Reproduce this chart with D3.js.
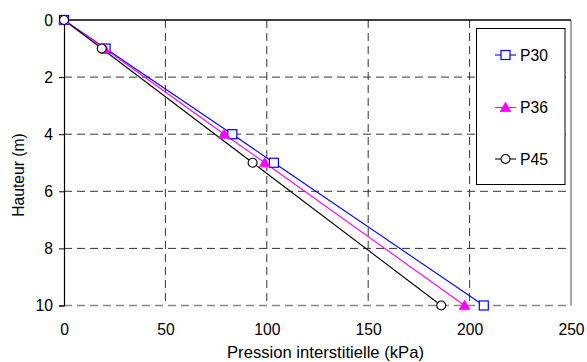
<!DOCTYPE html>
<html><head><meta charset="utf-8">
<script src="https://cdn.jsdelivr.net/npm/d3@7"></script>
<style>body{margin:0;background:#fff}svg{display:block;font-family:"Liberation Sans",Arial,sans-serif}</style>
</head><body><svg id="c" width="587" height="362"></svg>
<script>
const xTicks = [0, 50, 100, 150, 200, 250];
const yTicks = [0, 2, 4, 6, 8, 10];
const p30 = [[0,0],[20.5,1],[83,4],[103.5,5],[207,10]];
const p36 = [[0,0],[20,1],[79,4],[99,5],[197.5,10]];
const p45 = [[0,0],[18.6,1],[93,5],[186,10]];
const seriesNames = ["P30","P36","P45"];

const FS = 15.7;
const svg = d3.select("#c");
const x = d3.scaleLinear().domain([0,250]).range([64,571]);
const y = d3.scaleLinear().domain([0,10]).range([20,305.5]);

// grid
const g = svg.append("g");
g.selectAll(".vg").data(xTicks.filter(d=>d>0&&d<250)).join("line")
  .attr("x1",d=>x(d)).attr("x2",d=>x(d)).attr("y1",y(0)).attr("y2",y(10))
  .attr("stroke","#333").attr("stroke-width",1).attr("stroke-dasharray","8,5");
g.selectAll(".hg").data(yTicks.filter(d=>d>0&&d<10)).join("line")
  .attr("x1",x(0)).attr("x2",x(250)).attr("y1",d=>y(d)).attr("y2",d=>y(d))
  .attr("stroke","#333").attr("stroke-width",1).attr("stroke-dasharray","8,5");
// frame
svg.append("line").attr("x1",x(0)).attr("x2",x(250)).attr("y1",y(10)).attr("y2",y(10))
  .attr("stroke","#888").attr("stroke-width",1.5).attr("stroke-dasharray","8,5");
svg.append("line").attr("x1",x(250)).attr("x2",x(250)).attr("y1",y(0)).attr("y2",y(10))
  .attr("stroke","#888").attr("stroke-width",1.5);
svg.append("line").attr("x1",x(0)).attr("x2",x(250)).attr("y1",y(0)).attr("y2",y(0))
  .attr("stroke","#000").attr("stroke-width",1.5);

// axes
const yAxis = svg.append("g").attr("transform",`translate(${x(0)},0)`)
  .call(d3.axisLeft(y).tickValues(yTicks).tickSize(5).tickPadding(6).tickFormat(d3.format("d")));
yAxis.select(".domain").attr("stroke","#000").attr("stroke-width",1.2);
yAxis.selectAll("text").attr("font-size",FS).attr("fill","#000").attr("font-family","Liberation Sans, Arial, sans-serif");
yAxis.selectAll(".tick line").attr("stroke","#000");

const xAxis = svg.append("g").attr("transform",`translate(0,${y(10)})`)
  .call(d3.axisBottom(x).tickValues(xTicks).tickSize(0).tickPadding(18).tickFormat(d3.format("d")));
xAxis.select(".domain").remove();
xAxis.selectAll("text").attr("font-size",FS).attr("fill","#000").attr("font-family","Liberation Sans, Arial, sans-serif");

const xTitle = svg.append("text").attr("x",325.5).attr("y",358).attr("text-anchor","middle")
  .attr("font-size",FS).text("Pression interstitielle (kPa)");
svg.append("text").attr("transform","translate(23.5,175) rotate(-90)").attr("text-anchor","middle")
  .attr("font-size",FS).text("Hauteur (m)");

// series
const line = d3.line().x(d=>x(d[0])).y(d=>y(d[1]));
const cfg = [
  {data:p30,color:"#0000ff",sym:"square"},
  {data:p36,color:"#ff00ff",sym:"triangle"},
  {data:p45,color:"#000000",sym:"circle"}
];
function marker(sel, sym, color){
  if(sym==="square"){
    sel.append("rect").attr("x",-4.5).attr("y",-4.5).attr("width",9).attr("height",9)
      .attr("fill","#fff").attr("stroke",color).attr("stroke-width",1.2);
  } else if(sym==="triangle"){
    sel.append("path").attr("d",d3.symbol(d3.symbolTriangle,50)()).attr("transform","translate(0,1)")
      .attr("fill",color).attr("stroke",color).attr("stroke-width",0.8);
  } else {
    sel.append("circle").attr("r",4.5).attr("fill","#fff").attr("stroke",color).attr("stroke-width",1.1);
  }
}
cfg.forEach(c=>{
  svg.append("path").datum(c.data).attr("d",line).attr("fill","none")
    .attr("stroke",c.color).attr("stroke-width",1.1);
});
cfg.forEach(c=>{
  svg.append("g").selectAll("g").data(c.data).join("g")
    .attr("transform",d=>`translate(${x(d[0])},${y(d[1])})`)
    .each(function(){ marker(d3.select(this), c.sym, c.color); });
});

// legend
svg.append("rect").attr("x",476.5).attr("y",28.5).attr("width",88.5).attr("height",156)
  .attr("fill","#fff").attr("stroke","#000").attr("stroke-width",1);
const ly = [55,107.5,159];
cfg.forEach((c,i)=>{
  const lg = svg.append("g").attr("transform",`translate(505.5,${ly[i]})`);
  lg.append("line").attr("x1",-10.5).attr("x2",10.5).attr("stroke",c.color).attr("stroke-width",1.1);
  marker(lg, c.sym, c.color);
  svg.append("text").attr("x",520).attr("y",ly[i]+5.5).attr("font-size",FS).text(seriesNames[i]);
});

// title width matches the reference
xTitle.attr("textLength",197).attr("lengthAdjust","spacingAndGlyphs");
</script></body></html>
